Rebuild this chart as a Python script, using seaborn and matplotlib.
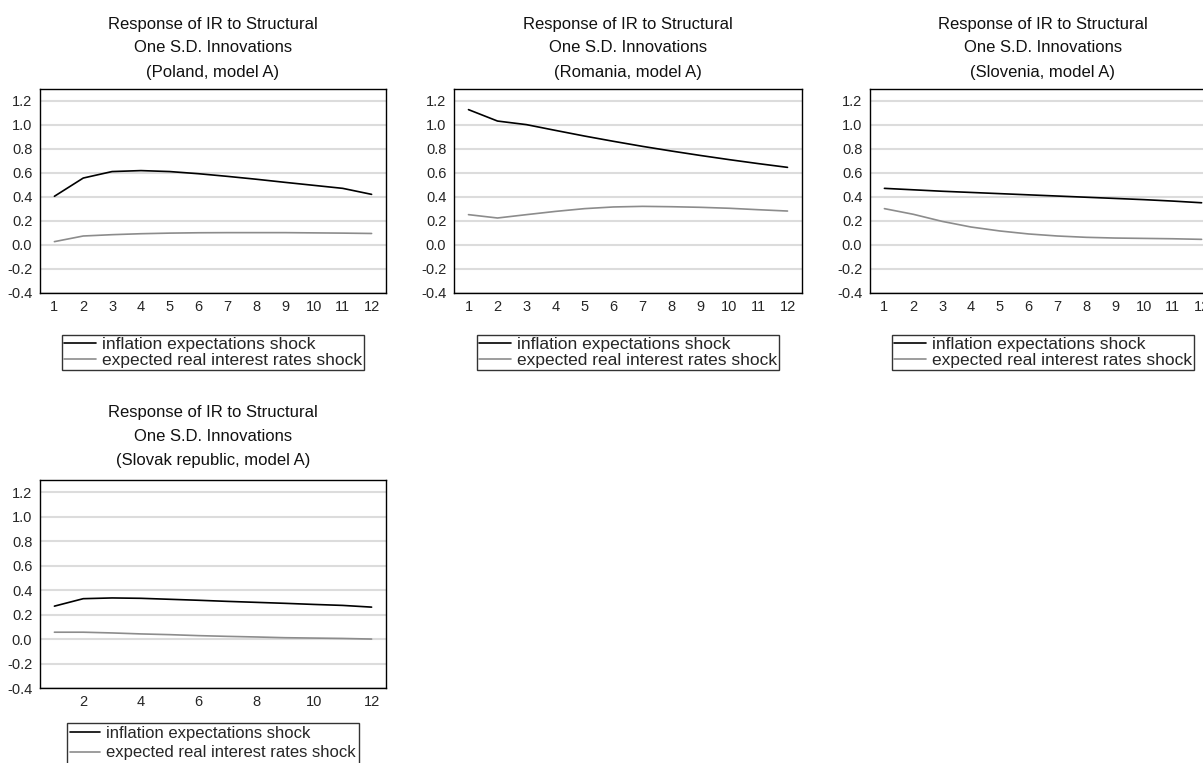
import numpy as np
import pandas as pd
import matplotlib
matplotlib.use("Agg")
import matplotlib.pyplot as plt
import seaborn as sns

sns.set_style("white")
plt.rcParams['font.family'] = ['Liberation Sans', 'DejaVu Sans']
plt.rcParams['axes.unicode_minus'] = False

horizon = list(range(1, 13))

poland_infl = [0.406, 0.558, 0.612, 0.620, 0.612, 0.594, 0.572, 0.548, 0.522, 0.497, 0.472, 0.422]
poland_rate = [0.028, 0.075, 0.086, 0.094, 0.099, 0.102, 0.103, 0.103, 0.103, 0.101, 0.099, 0.096]

romania_infl = [1.128, 1.033, 1.003, 0.955, 0.908, 0.864, 0.822, 0.783, 0.746, 0.711, 0.678, 0.647]
romania_rate = [0.253, 0.225, 0.253, 0.280, 0.303, 0.317, 0.322, 0.319, 0.314, 0.306, 0.294, 0.283]

slovenia_infl = [0.472, 0.460, 0.448, 0.438, 0.428, 0.418, 0.408, 0.398, 0.388, 0.378, 0.366, 0.352]
slovenia_rate = [0.303, 0.256, 0.197, 0.150, 0.117, 0.092, 0.075, 0.064, 0.058, 0.055, 0.052, 0.047]

slovak_infl = [0.269, 0.330, 0.336, 0.333, 0.325, 0.317, 0.308, 0.300, 0.292, 0.283, 0.275, 0.261]
slovak_rate = [0.056, 0.056, 0.050, 0.042, 0.036, 0.028, 0.022, 0.017, 0.011, 0.008, 0.005, 0.000]

series_names = ["inflation expectations shock", "expected real interest rates shock"]
titles = [
    "Response of IR to Structural\nOne S.D. Innovations\n(Poland, model A)",
    "Response of IR to Structural\nOne S.D. Innovations\n(Romania, model A)",
    "Response of IR to Structural\nOne S.D. Innovations\n(Slovenia, model A)",
    "Response of IR to Structural\nOne S.D. Innovations\n(Slovak republic, model A)",
]
y_ticks = [-0.4, -0.2, 0.0, 0.2, 0.4, 0.6, 0.8, 1.0, 1.2]

W, H = 1203, 763
fig = plt.figure(figsize=(W / 100, H / 100), dpi=100)

# pixel boxes: left, top, right, bottom
boxes = [(40, 89, 386, 293), (454, 89, 802, 293), (870, 89, 1216, 293), (40, 480, 386, 688)]
data_sets = [(poland_infl, poland_rate), (romania_infl, romania_rate),
             (slovenia_infl, slovenia_rate), (slovak_infl, slovak_rate)]
legend_offsets = [-0.205, -0.205, -0.205, -0.168]
legend_sizes = [12.5, 12.5, 12.5, 12]
legend_spacing = [0.05, 0.05, 0.05, 0.25]
legend_pad = [0.12, 0.12, 0.12, 0.2]
title_pads = [9, 9, 9, 11]

for i, ((l, t, r, b), (infl, rate)) in enumerate(zip(boxes, data_sets)):
    ax = fig.add_axes([l / W, 1 - b / H, (r - l) / W, (b - t) / H])
    df = pd.DataFrame({
        "horizon": horizon * 2,
        "value": infl + rate,
        "shock": [series_names[0]] * 12 + [series_names[1]] * 12,
    })
    sns.lineplot(data=df, x="horizon", y="value", hue="shock",
                 palette={series_names[0]: "#000000", series_names[1]: "#8c8c8c"},
                 ax=ax, linewidth=1.2, legend=False)
    ax.set_xlim(0.5, 12.5)
    ax.set_ylim(-0.4, 1.3)
    ax.set_yticks(y_ticks)
    ax.set_yticklabels([f"{v:.1f}" for v in y_ticks], fontsize=10.5)
    ax.yaxis.grid(True, color="#dcdcdc", linewidth=1.5)
    ax.set_axisbelow(True)
    # tick marks at category boundaries, labels at centres
    ax.set_xticks(np.arange(0.5, 13.0, 1.0))
    ax.set_xticklabels([])
    if i == 3:
        lab_pos = [h for h in horizon if h % 2 == 0]
    else:
        lab_pos = horizon
    ax.set_xticks(lab_pos, minor=True)
    ax.set_xticklabels([str(h) for h in lab_pos], minor=True, fontsize=10.5)
    ax.tick_params(axis="x", which="major", direction="out", length=3.5, width=0.8, color="black")
    ax.tick_params(axis="x", which="minor", length=0, pad=5)
    ax.tick_params(axis="y", direction="out", length=3.5, width=0.8, color="black", pad=2)
    for s in ax.spines.values():
        s.set_visible(True)
        s.set_color("black")
        s.set_linewidth(1.0)
    ax.set_xlabel("")
    ax.set_ylabel("")
    ax.set_title(titles[i], fontsize=12, linespacing=1.75, pad=title_pads[i], color="#111111")
    h1, = ax.plot([], [], color="#000000", linewidth=1.2)
    h2, = ax.plot([], [], color="#8c8c8c", linewidth=1.2)
    leg = ax.legend([h1, h2], series_names, loc="upper center",
                    bbox_to_anchor=(0.5, legend_offsets[i]), frameon=True,
                    fancybox=False, fontsize=legend_sizes[i], handlelength=1.8,
                    handletextpad=0.35, labelspacing=legend_spacing[i],
                    borderpad=legend_pad[i], borderaxespad=0)
    leg.get_frame().set_edgecolor("black")
    leg.get_frame().set_linewidth(1.0)

fig.savefig("out.png", dpi=100)
